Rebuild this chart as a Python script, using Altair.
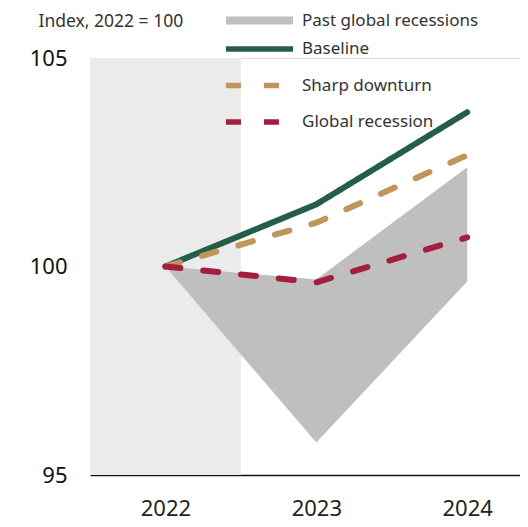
import altair as alt
import pandas as pd

# ---- data ----
years = [2022, 2023, 2024]
baseline = [100.0, 101.49, 103.7]
sharp_downturn = [100.0, 101.05, 102.67]
global_recession = [100.0, 99.62, 100.7]
past_high = [100.0, 99.69, 102.38]
past_low = [100.0, 95.78, 99.64]
band_start = [2021.5]
band_end = [2022.5]
y_ticks = [95, 100, 105]
x_ticks = [2022, 2023, 2024]

scenarios = ["Baseline", "Sharp downturn", "Global recession"]
scen_colors = ["#245e4b", "#c0955a", "#a21f40"]
scen_dash = [[1, 0], [15, 23], [15, 23]]

FONT = "Noto Sans"

lines_df = pd.DataFrame({
    "year": years * 3,
    "value": baseline + sharp_downturn + global_recession,
    "scenario": [scenarios[0]] * 3 + [scenarios[1]] * 3 + [scenarios[2]] * 3,
})
area_df = pd.DataFrame({"year": years, "lo": past_low, "hi": past_high,
                        "series": ["Past global recessions"] * 3})
band_df = pd.DataFrame({"x": band_start, "x2": band_end,
                        "y": [y_ticks[0]], "y2": [y_ticks[-1]]})

xscale = alt.Scale(domain=[2021.5, 2024.35], nice=False, zero=False)
yscale = alt.Scale(domain=[95, 105], nice=False, zero=False)

xaxis = alt.Axis(values=x_ticks, format="d", title=None, grid=False, ticks=False,
                 domain=True, domainColor="#111111", domainWidth=1.5,
                 labelFontSize=22, labelColor="#222222", labelFont=FONT,
                 labelPadding=23)
yaxis = alt.Axis(values=y_ticks, title="Index, 2022 = 100", titleAngle=0,
                 titleAlign="left", titleBaseline="middle", titleX=-52, titleY=-37,
                 titleFont=FONT, titleFontSize=17.5, titleFontWeight="normal",
                 titleColor="#333333",
                 grid=False, ticks=False, domain=False,
                 labelFontSize=22, labelColor="#111111", labelFont=FONT,
                 labelPadding=23)

band = alt.Chart(band_df).mark_rect(color="#ebebeb").encode(
    x=alt.X("x:Q", scale=xscale, axis=xaxis),
    x2="x2:Q",
    y=alt.Y("y:Q", scale=yscale, axis=yaxis),
    y2="y2:Q",
)

area = alt.Chart(area_df).mark_area(opacity=1).encode(
    x=alt.X("year:Q", scale=xscale),
    y=alt.Y("lo:Q", scale=yscale),
    y2="hi:Q",
    fill=alt.Fill("series:N", scale=alt.Scale(range=["#bfbfbf"]),
                  legend=alt.Legend(title=None, orient="none", legendX=158, legendY=-49,
                                    padding=0, symbolType="M-3,-0.36H3V0.36H-3Z",
                                    symbolSize=500, symbolStrokeWidth=0,
                                    symbolOpacity=1, labelLimit=400,
                                    labelFont=FONT, labelFontSize=17, labelColor="#333333",
                                    labelOffset=31)),
)

line_legend = alt.Legend(title=None, orient="none", legendX=155.5, legendY=-23,
                         padding=0, symbolType="M-3,0H3", symbolSize=500,
                         symbolStrokeWidth=5.5, rowPadding=11.5, labelLimit=400,
                         labelFont=FONT, labelFontSize=17,
                         labelColor="#333333", labelOffset=28.5)


def line_layer(name):
    return alt.Chart(lines_df).transform_filter(
        alt.datum.scenario == name
    ).mark_line(strokeWidth=6, strokeCap="round", strokeJoin="round").encode(
        x=alt.X("year:Q", scale=xscale),
        y=alt.Y("value:Q", scale=yscale),
        color=alt.Color("scenario:N",
                        scale=alt.Scale(domain=scenarios, range=scen_colors),
                        legend=line_legend),
        strokeDash=alt.StrokeDash("scenario:N",
                                  scale=alt.Scale(domain=scenarios, range=scen_dash),
                                  legend=line_legend),
    )


chart = alt.layer(
    band, area, *[line_layer(s) for s in scenarios]
).properties(
    width=430, height=417,
    padding={"left": 82, "top": 50, "right": 0, "bottom": 50},
    autosize=alt.AutoSizeParams(type="none"),
).resolve_legend(
    fill="independent"
).configure_view(stroke=None).configure(background="white")

chart.save("out.html", embed_options={"renderer": "svg", "actions": False})
